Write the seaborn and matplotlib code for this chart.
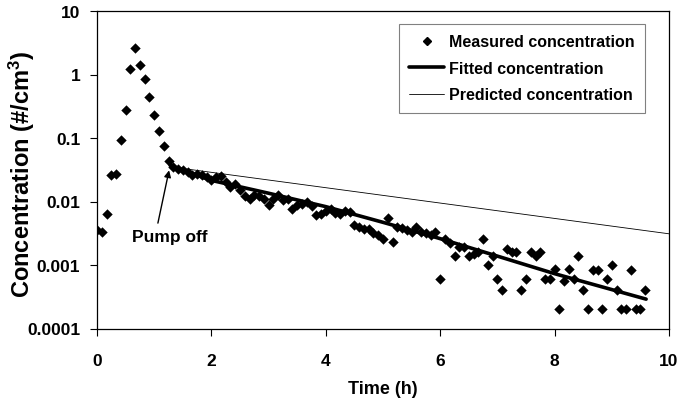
import numpy as np
import pandas as pd
import matplotlib
matplotlib.use("Agg")
import matplotlib.pyplot as plt
import seaborn as sns
from matplotlib.ticker import FixedLocator, FuncFormatter, NullLocator
from matplotlib.lines import Line2D

# ---- data ----
meas_time = [i / 12 for i in range(116)]
meas_conc = [
    0.0036, 0.0033, 0.0063, 0.026, 0.027, 0.092, 0.28, 1.22, 2.6, 1.42,
    0.85, 0.44, 0.23, 0.13, 0.076, 0.044, 0.035, 0.032, 0.031, 0.029,
    0.026, 0.027, 0.026, 0.024, 0.022, 0.024, 0.025, 0.020, 0.017, 0.019,
    0.015, 0.012, 0.011, 0.0125, 0.012, 0.011, 0.0087, 0.011, 0.0125, 0.0105,
    0.011, 0.0077, 0.0087, 0.0092, 0.0098, 0.0085, 0.0061, 0.0064, 0.0072, 0.0077,
    0.0066, 0.0064, 0.0072, 0.0068, 0.0042, 0.0040, 0.0037, 0.0037, 0.0032, 0.0030,
    0.0026, 0.0054, 0.0023, 0.0040, 0.0038, 0.0035, 0.0033, 0.0040, 0.0033, 0.0032,
    0.0030, 0.0033, 0.0006, 0.0026, 0.0022, 0.0014, 0.0019, 0.0019, 0.0014, 0.0015,
    0.0016, 0.0026, 0.0010, 0.0014, 0.0006, 0.0004, 0.0018, 0.0016, 0.0016, 0.0004,
    0.0006, 0.0016, 0.0014, 0.0016, 0.0006, 0.0006, 0.00088, 0.0002, 0.00057, 0.00088,
    0.0006, 0.0014, 0.0004, 0.0002, 0.00084, 0.00084, 0.0002, 0.0006, 0.001, 0.0004,
    0.0002, 0.0002, 0.00084, 0.0002, 0.0002, 0.0004,
]

fit_time = [1.28, 1.6, 2.0, 3.0, 4.0, 5.0, 6.0, 7.0, 8.0, 9.0, 9.6]
fit_conc = [0.037, 0.029, 0.0215, 0.0135, 0.0083, 0.0047, 0.0026, 0.00138, 0.00073, 0.00041, 0.00029]

pred_time = [1.3, 10.0]
pred_conc = [0.035, 0.0031]

x_ticks = [0, 2, 4, 6, 8, 10]
y_ticks = [0.0001, 0.001, 0.01, 0.1, 1, 10]

# ---- style ----
sns.set_style("ticks")
plt.rcParams["font.family"] = ["Liberation Sans", "DejaVu Sans"]
plt.rcParams["font.weight"] = "bold"
plt.rcParams["text.color"] = "black"
plt.rcParams["axes.labelcolor"] = "black"
plt.rcParams["xtick.color"] = "black"
plt.rcParams["ytick.color"] = "black"
plt.rcParams["mathtext.fontset"] = "custom"
plt.rcParams["mathtext.rm"] = "Liberation Sans:bold"
plt.rcParams["mathtext.bf"] = "Liberation Sans:bold"
plt.rcParams["mathtext.it"] = "Liberation Sans:bold"

fig = plt.figure(figsize=(6.79, 4.10), dpi=100)
ax = fig.add_axes([97 / 679, 1 - 329.5 / 410, (669 - 97) / 679, (329.5 - 12) / 410])

df_meas = pd.DataFrame({"t": meas_time, "c": meas_conc})
df_fit = pd.DataFrame({"t": fit_time, "c": fit_conc})
df_pred = pd.DataFrame({"t": pred_time, "c": pred_conc})

sns.lineplot(data=df_pred, x="t", y="c", ax=ax, color="black", lw=0.6, sort=False, zorder=2)
sns.lineplot(data=df_fit, x="t", y="c", ax=ax, color="black", lw=2.6, sort=False, zorder=3)
sns.scatterplot(data=df_meas, x="t", y="c", ax=ax, marker="D", s=28, color="black",
                edgecolor="black", linewidth=0, zorder=4)

ax.set_yscale("log")
ax.set_xlim(0, 10)
ax.set_ylim(0.0001, 10)
ax.xaxis.set_major_locator(FixedLocator(x_ticks))
ax.yaxis.set_major_locator(FixedLocator(y_ticks))
ax.yaxis.set_minor_locator(NullLocator())
ax.yaxis.set_major_formatter(FuncFormatter(lambda v, p: f"{v:g}"))
ax.xaxis.set_major_formatter(FuncFormatter(lambda v, p: f"{v:g}"))
ax.tick_params(axis="both", direction="out", length=5, width=0.8, labelsize=12.5, colors="black")
ax.tick_params(axis="x", pad=13)
ax.tick_params(axis="y", pad=7)
for lab in ax.get_xticklabels() + ax.get_yticklabels():
    lab.set_fontweight("bold")

for side in ["top", "right", "left", "bottom"]:
    ax.spines[side].set_visible(True)
    ax.spines[side].set_color("black")
    ax.spines[side].set_linewidth(0.9)

ax.set_xlabel("Time (h)", fontsize=13, fontweight="bold", labelpad=8)
ax.set_ylabel(r"Concentration (#/cm$^{3}$)", fontsize=17, fontweight="bold")
ax.yaxis.set_label_coords(-0.105, 0.49)

ax.annotate("Pump off", xy=(1.26, 0.031), xytext=(1.28, 0.0028),
            ha="center", va="center", fontsize=12.5, fontweight="bold",
            arrowprops=dict(arrowstyle="-|>", color="black", lw=1.0,
                            mutation_scale=10, relpos=(0.32, 1.0), shrinkA=2, shrinkB=0))

handles = [
    Line2D([], [], marker="D", color="black", ls="none", markersize=4.5),
    Line2D([], [], color="black", lw=2.6),
    Line2D([], [], color="black", lw=0.6),
]
labels = ["Measured concentration", "Fitted concentration", "Predicted concentration"]
leg = ax.legend(handles, labels, loc="upper right", bbox_to_anchor=(0.958, 0.959),
                frameon=True, fancybox=False, edgecolor="#808080", framealpha=1,
                prop={"weight": "bold", "size": 11.5}, handlelength=2.2,
                handletextpad=0.3, labelspacing=0.72, borderpad=0.65, borderaxespad=0)
leg.get_frame().set_linewidth(0.8)

fig.savefig("out.png", dpi=100, facecolor="white")
